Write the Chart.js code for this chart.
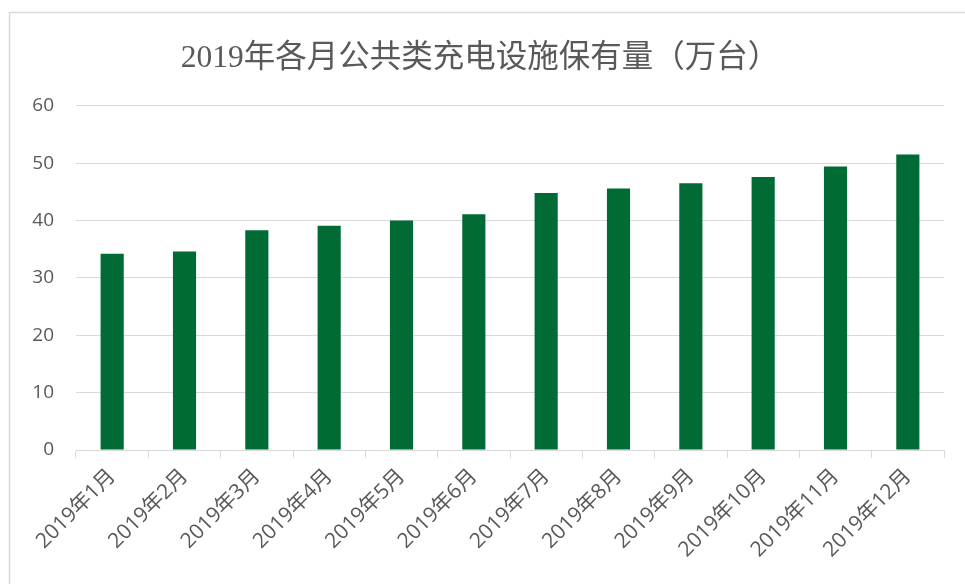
<!DOCTYPE html>
<html>
<head>
<meta charset="utf-8">
<script src="https://cdn.jsdelivr.net/npm/chart.js@4/dist/chart.umd.min.js"></script>
<style>
    html, body { margin: 0; padding: 0; background: #fff; }
    #wrap { width: 965px; height: 584px; position: relative; }
</style>
</head>
<body>
<div id="wrap"><canvas id="chart" width="965" height="584"></canvas></div>
<script>
const chartTitle = '2019年各月公共类充电设施保有量（万台）';
const months = ['2019年1月', '2019年2月', '2019年3月', '2019年4月', '2019年5月', '2019年6月',
    '2019年7月', '2019年8月', '2019年9月', '2019年10月', '2019年11月', '2019年12月'];
const stock = [34.2, 34.6, 38.3, 39.1, 40.0, 41.1, 44.8, 45.6, 46.5, 47.6, 49.4, 51.5];
const yMin = 0;
const yMax = 60;
const yStep = 10;

// light frame around the chart, like the spreadsheet chart box
const framePlugin = {
    id: 'frame',
    beforeDraw(chart) {
        const ctx = chart.ctx;
        ctx.save();
        ctx.fillStyle = '#fff';
        ctx.fillRect(0, 0, chart.width, chart.height);
        ctx.strokeStyle = '#d9d9d9';
        ctx.lineWidth = 1.5;
        ctx.strokeRect(9.5, 12.5, chart.width + 20, chart.height + 20);
        ctx.restore();
    }
};

new Chart(document.getElementById('chart').getContext('2d'), {
    type: 'bar',
    data: {
        labels: months,
        datasets: [{
            label: chartTitle,
            data: stock,
            backgroundColor: '#006B35',
            categoryPercentage: 1,
            barPercentage: 0.32
        }]
    },
    plugins: [framePlugin],
    options: {
        responsive: false,
        animation: false,
        devicePixelRatio: 1,
        layout: {
            padding: { left: 16, right: 21, top: 22, bottom: 0 }
        },
        plugins: {
            legend: { display: false },
            tooltip: { enabled: false },
            title: {
                display: true,
                text: chartTitle,
                color: '#595959',
                font: { family: '"Liberation Serif", "Noto Sans CJK SC", serif', size: 31.5, weight: 'normal' },
                padding: { top: 18, bottom: 28 }
            }
        },
        scales: {
            x: {
                offset: true,
                afterFit: (scale) => { scale.height = 134; },
                grid: {
                    offset: true,
                    drawOnChartArea: false,
                    drawTicks: true,
                    tickLength: 8,
                    color: '#d9d9d9'
                },
                border: { color: '#d9d9d9', width: 1 },
                ticks: {
                    color: '#595959',
                    maxRotation: 45,
                    minRotation: 45,
                    autoSkip: false,
                    padding: 6,
                    font: { family: '"Open Sans", "Noto Sans CJK SC", sans-serif', size: 21 }
                }
            },
            y: {
                min: yMin,
                max: yMax,
                afterFit: (scale) => { scale.width = 60; },
                grid: {
                    color: '#d9d9d9',
                    drawTicks: false
                },
                border: { display: false },
                ticks: {
                    stepSize: yStep,
                    color: '#595959',
                    padding: 22,
                    font: { family: '"Open Sans", "Liberation Sans", sans-serif', size: 19 }
                }
            }
        }
    }
});
</script>
</body>
</html>
